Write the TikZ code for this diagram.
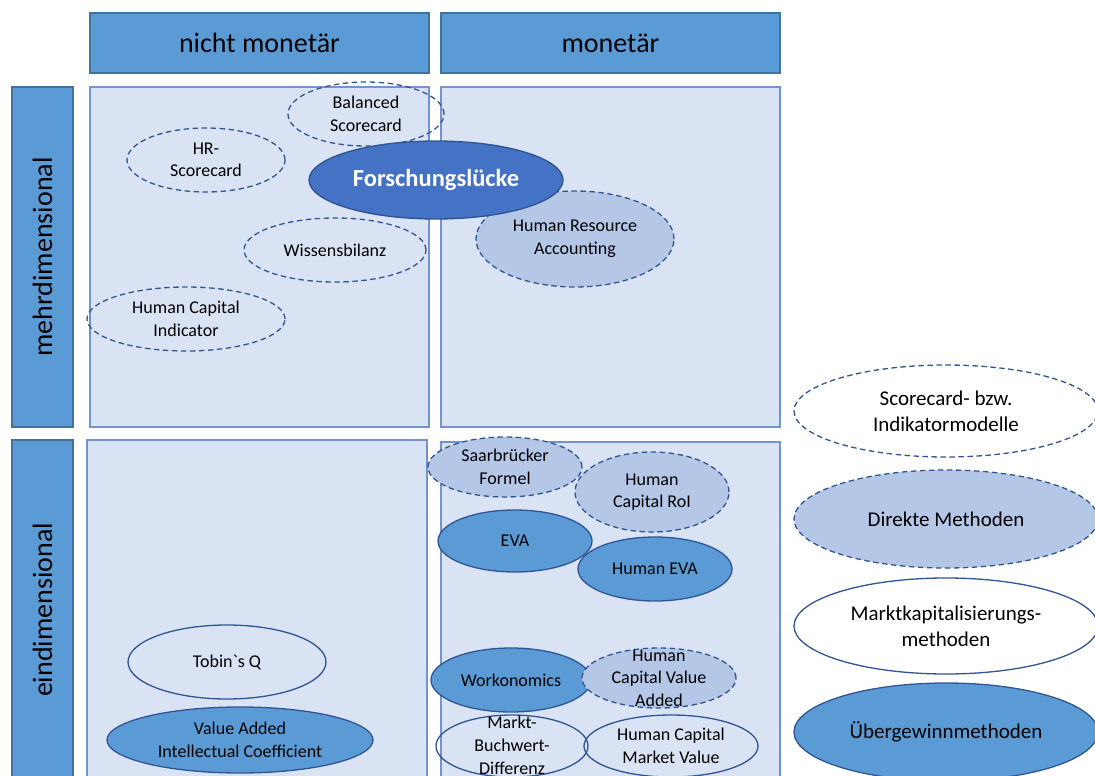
\documentclass[tikz,border=0pt]{standalone}
\usepackage{fontspec}
\setmainfont{Carlito}
\usetikzlibrary{shapes.geometric}

\definecolor{hdrfill}{HTML}{5B9BD5}
\definecolor{hdredge}{HTML}{41719C}
\definecolor{cellfill}{HTML}{DAE3F3}
\definecolor{celledge}{HTML}{7293CF}
\definecolor{gapfill}{HTML}{4472C4}
\definecolor{gapedge}{HTML}{2F528F}
\definecolor{lightfill}{HTML}{B4C7E7}
\definecolor{ovaledge}{HTML}{2F5597}

\begin{document}
\begin{tikzpicture}[x=1pt,y=-1pt,
  hdr/.style={draw=hdredge, fill=hdrfill, line width=1.2pt, inner sep=0pt,
    font=\fontsize{28}{32}\selectfont},
  cell/.style={draw=celledge, fill=cellfill, line width=1.2pt, inner sep=0pt},
  oval/.style={ellipse, inner sep=0pt, draw=ovaledge, line width=1.3pt},
  dsh/.style={dash pattern=on 5.5pt off 3.5pt},
  lightoval/.style={oval, dsh, fill=lightfill},
  darkoval/.style={oval, fill=hdrfill},
  plainoval/.style={oval},
  dashoval/.style={oval, dsh},
  txt/.style={align=center, text=black, inner sep=0pt,
    font=\fontsize{18}{22.5}\selectfont},
  legtxt/.style={align=center, text=black, inner sep=0pt,
    font=\fontsize{21}{26}\selectfont}
]
\useasboundingbox (0,0) rectangle (1095,776);
\clip (0,0) rectangle (1095,776);

% column and row headers
\node[hdr, minimum width=339pt, minimum height=60pt] (hnm) at (259.5,43) {nicht monetär};
\node[hdr, minimum width=339pt, minimum height=60pt] (hm) at (610.5,43) {monetär};
\node[hdr, rotate=90, minimum width=340pt, minimum height=61pt] (vmd) at (42.5,257) {mehrdimensional};
\node[hdr, rotate=90, minimum width=340pt, minimum height=61pt] (ved) at (42.5,610) {eindimensional};

% quadrants
\node[cell, minimum width=339pt, minimum height=340pt] (q11) at (259.5,257) {};
\node[cell, minimum width=339pt, minimum height=340pt] (q12) at (610.5,257) {};
\node[cell, minimum width=340pt, minimum height=340pt] (q21) at (257,610) {};
\node[cell, minimum width=339pt, minimum height=340pt] (q22) at (610.5,612) {};

% multidimensional methods
\node[dashoval, minimum width=156pt, minimum height=64pt] (bsc) at (366,114) {};
\node[dashoval, minimum width=158pt, minimum height=64pt] (hrs) at (206,160) {};
\node[dashoval, minimum width=182pt, minimum height=64pt] (wib) at (335,250) {};
\node[dashoval, minimum width=198pt, minimum height=64pt] (hci) at (186,319) {};
\node[lightoval, minimum width=198pt, minimum height=96pt] (hra) at (575,239) {};
\node[oval, draw=gapedge, fill=gapfill, minimum width=254pt, minimum height=78pt] (fgl) at (436,180) {};

% one-dimensional methods
\node[lightoval, minimum width=154pt, minimum height=80pt] (hcr) at (652,492) {};
\node[lightoval, minimum width=154pt, minimum height=60pt] (sbf) at (505,467) {};
\node[darkoval, minimum width=154pt, minimum height=62pt] (eva) at (515,541) {};
\node[darkoval, minimum width=154pt, minimum height=64pt] (hev) at (655,569) {};
\node[darkoval, minimum width=160pt, minimum height=64pt] (wrk) at (511,680) {};
\node[lightoval, minimum width=154pt, minimum height=60pt] (hcv) at (659,678) {};
\node[plainoval, minimum width=152pt, minimum height=62pt] (mbd) at (512,746) {};
\node[plainoval, minimum width=174pt, minimum height=62pt] (hcm) at (671,746) {};
\node[plainoval, minimum width=198pt, minimum height=74pt] (tob) at (227,662) {};
\node[darkoval, minimum width=266pt, minimum height=66pt] (vaic) at (240,740) {};

% legend
\node[dashoval, fill=white, minimum width=304pt, minimum height=92pt] (lsc) at (946,411) {};
\node[lightoval, minimum width=304pt, minimum height=98pt] (ldm) at (946,519) {};
\node[plainoval, fill=white, minimum width=304pt, minimum height=96pt] (lmk) at (946,626) {};
\node[darkoval, minimum width=304pt, minimum height=98pt] (lug) at (946,732) {};

% labels
\node[txt] at (bsc) {Balanced\\Scorecard};
\node[txt] at (hrs) {HR-\\Scorecard};
\node[txt] at (wib) {Wissensbilanz};
\node[txt] at (hci) {Human Capital\\Indicator};
\node[txt] at (hra) {Human Resource\\Accounting};
\node[txt, text=white, font=\fontsize{24.5}{28}\selectfont\bfseries] at (fgl) {Forschungslücke};
\node[txt] at (sbf) {Saarbrücker\\Formel};
\node[txt] at (hcr) {Human\\Capital RoI};
\node[txt] at (eva) {EVA};
\node[txt] at (hev) {Human EVA};
\node[txt] at (wrk) {Workonomics};
\node[txt] at (hcv) {Human\\Capital Value\\Added};
\node[txt, font=\fontsize{18}{23}\selectfont] at ([yshift=1pt]mbd.center) {Markt-\\Buchwert-\\Differenz};
\node[txt] at (hcm) {Human Capital\\Market Value};
\node[txt] at (tob) {Tobin\textasciigrave s Q};
\node[txt] at (vaic) {Value Added\\Intellectual Coefficient};
\node[legtxt] at (lsc) {Scorecard- bzw.\\Indikatormodelle};
\node[legtxt] at (ldm) {Direkte Methoden};
\node[legtxt] at (lmk) {Marktkapitalisierungs-\\methoden};
\node[legtxt] at (lug) {Übergewinnmethoden};
\end{tikzpicture}
\end{document}
